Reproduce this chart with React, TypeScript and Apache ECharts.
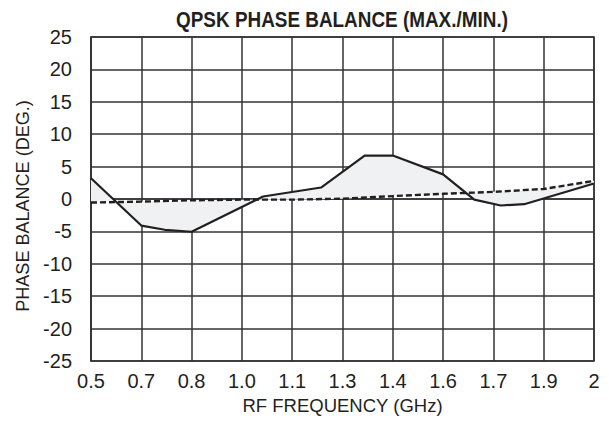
import React, { useEffect, useRef } from "react";
import * as echarts from "echarts";

// Tick labels (x axis: 11 evenly spaced ticks from 0.5 to 2.0 GHz)
const xTickLabels = ["0.5", "0.7", "0.8", "1.0", "1.1", "1.3", "1.4", "1.6", "1.7", "1.9", "2"];

// Solid trace (max/min phase balance), [GHz, deg]
const solidFreq = [0.5, 0.65, 0.72, 0.8, 1.013, 1.186, 1.316, 1.4, 1.55, 1.643, 1.722, 1.792, 2.0];
const solidDeg = [3.2, -4.1, -4.75, -5.05, 0.38, 1.77, 6.7, 6.7, 3.8, -0.1, -1.0, -0.8, 2.4];

// Dashed trace
const dashFreq = [0.5, 0.65, 0.8, 0.95, 1.1, 1.25, 1.4, 1.55, 1.7, 1.85, 2.0];
const dashDeg = [-0.55, -0.4, -0.2, -0.1, -0.1, 0.05, 0.45, 0.8, 1.1, 1.55, 2.8];

const FONT = "'Liberation Sans', Arial, Helvetica, sans-serif";

export default function App() {
  const ref = useRef<HTMLDivElement>(null);

  useEffect(() => {
    if (!ref.current) return;
    const chart = echarts.init(ref.current, null, { renderer: "svg" });

    const solid = solidFreq.map((f, i) => [f, solidDeg[i]]);
    const dashed = dashFreq.map((f, i) => [f, dashDeg[i]]);

    chart.setOption({
      animation: false,
      backgroundColor: "#ffffff",
      grid: {
        left: 91,
        right: 15,
        top: 37,
        bottom: 63,
        show: true,
        borderColor: "#333333",
        borderWidth: 1.5,
      },
      graphic: [
        {
          type: "text",
          x: 342,
          y: 19,
          scaleX: 0.86,
          style: {
            text: "QPSK PHASE BALANCE (MAX./MIN.)",
            font: `bold 22px ${FONT}`,
            fill: "#231f20",
            align: "center",
            verticalAlign: "middle",
          },
        },
        {
          type: "text",
          x: 22,
          y: 206,
          rotation: Math.PI / 2,
          scaleX: 0.95,
          style: {
            text: "PHASE BALANCE (DEG.)",
            font: `19px ${FONT}`,
            fill: "#231f20",
            align: "center",
            verticalAlign: "middle",
          },
        },
      ],
      xAxis: {
        type: "value",
        min: 0.5,
        max: 2.0,
        interval: 0.15,
        name: "RF FREQUENCY (GHz)",
        nameLocation: "middle",
        nameGap: 32,
        nameTextStyle: { fontFamily: FONT, fontSize: 18.5, color: "#231f20" },
        axisLine: { show: true, lineStyle: { color: "#333333", width: 1.5 } },
        axisTick: { show: false },
        axisLabel: {
          margin: 10,
          fontFamily: FONT,
          fontSize: 20,
          color: "#231f20",
          formatter: (v: number) => xTickLabels[Math.round((v - 0.5) / 0.15)] ?? "",
        },
        splitLine: { show: true, lineStyle: { color: "#333333", width: 1.5 } },
      },
      yAxis: {
        type: "value",
        min: -25,
        max: 25,
        interval: 5,
        axisLine: { show: true, lineStyle: { color: "#333333", width: 1.5 } },
        axisTick: { show: false },
        axisLabel: { margin: 19, fontFamily: FONT, fontSize: 20, color: "#231f20" },
        splitLine: { show: true, lineStyle: { color: "#333333", width: 1.5 } },
      },
      series: [
        {
          type: "custom",
          clip: true,
          silent: true,
          z: 1,
          data: [[solidFreq[0], solidDeg[0]]],
          encode: { x: 0, y: 1 },
          renderItem: (_params: any, api: any) => {
            const pts: number[][] = [];
            solid.forEach((p) => pts.push(api.coord(p)));
            for (let i = dashed.length - 1; i >= 0; i--) pts.push(api.coord(dashed[i]));
            return {
              type: "polygon",
              shape: { points: pts },
              style: { fill: "#f0f1f3", stroke: "none" },
            };
          },
        },
        {
          type: "line",
          data: dashed,
          symbol: "none",
          z: 3,
          lineStyle: { color: "#231f20", width: 2.4, type: [6, 3] },
        },
        {
          type: "line",
          data: solid,
          symbol: "none",
          z: 4,
          lineStyle: { color: "#231f20", width: 2.2 },
        },
      ],
    });

    return () => chart.dispose();
  }, []);

  return (
    <div
      ref={ref}
      style={{ position: "absolute", left: 0, top: 0, width: 609, height: 424 }}
    />
  );
}
